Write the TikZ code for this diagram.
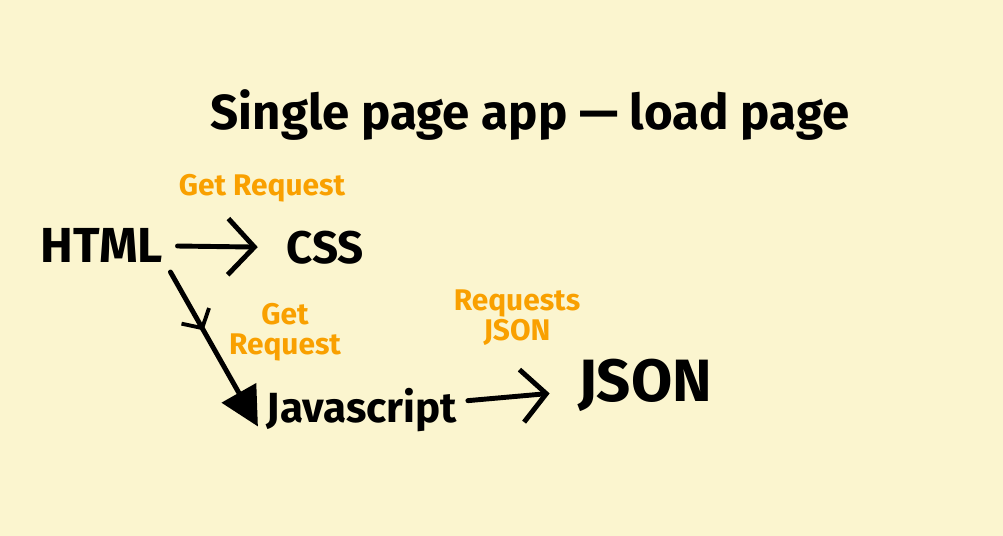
\documentclass[tikz,border=0pt]{standalone}
\usepackage{fontspec}
\setmainfont{Fira Sans}
\usetikzlibrary{arrows.meta,decorations.markings,positioning}
\definecolor{paper}{RGB}{251,245,207}
\definecolor{pen}{RGB}{249,160,0}

\begin{document}
\begin{tikzpicture}[x=0.02cm, y=-0.02cm,
  word/.style={inner sep=2pt, font=\bfseries\fontsize{28}{30}\selectfont},
  note/.style={inner sep=1pt, text=pen, align=center, font=\bfseries\fontsize{17}{17}\selectfont},
  link/.style={line width=2.8pt, line cap=round, line join=round}]
\fill[paper] (0,0) rectangle (1003,536);
\useasboundingbox (0,0) rectangle (1003,536);
% title
\node[font=\bfseries\fontsize{28}{30}\selectfont] (title) at (530,115) {Single page app --- load page};
% the pages
\node[word] (html) at (102,245) {HTML};
\node[word, font=\bfseries\fontsize{26}{28}\selectfont] (css) at (325,248) {CSS};
\node[word, font=\bfseries\fontsize{24}{26}\selectfont] (js) at (362,410) {Javascript};
\node[word, font=\bfseries\fontsize{34}{36}\selectfont] (json) at (645,385) {JSON};
% the requests
\node[note] (getcss) at (262,188) {Get Request};
\node[note] (getjs) at (285,332) {Get\\Request};
\node[note] (getjson) at (517,318) {Requests\\JSON};
\draw[link, shorten <=6pt, shorten >=14pt, -{Straight Barb[length=15pt, width=32pt, line width=2.8pt]}] (html) -- (css);
\draw[link, shorten <=4pt, shorten >=6pt, -{Triangle[length=22pt, width=22pt]},
  postaction={decorate, decoration={markings, mark=at position 0.38 with {\arrow{Straight Barb[length=8pt, width=18pt, line width=2.2pt]}}}}]
  (html.south east) -- (js.south west);
\draw[link, shorten <=4pt, shorten >=14pt, -{Straight Barb[length=14pt, width=30pt, line width=2.8pt]}] (js) -- (json);
\end{tikzpicture}
\end{document}
